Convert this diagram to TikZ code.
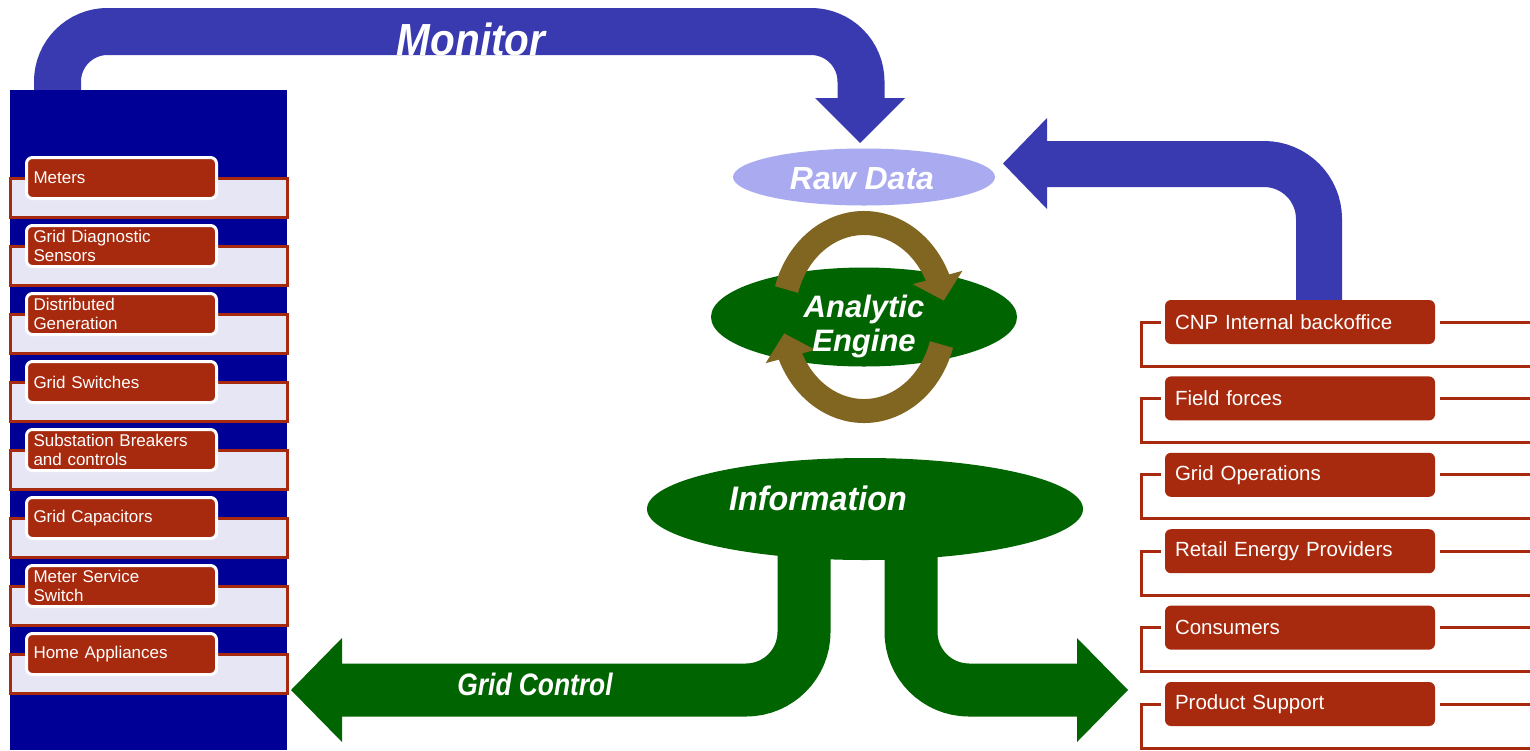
\documentclass[tikz,border=0pt]{standalone}
\usepackage{fontspec}
\setmainfont{Liberation Sans}
\newfontfamily\narrowfont[FakeStretch=0.85]{Liberation Sans}
\usetikzlibrary{arrows.meta,bending,shapes.geometric,calc}
\definecolor{mblue}{RGB}{58,58,176}
\definecolor{panelblue}{RGB}{0,0,150}
\definecolor{rawlav}{RGB}{170,170,240}
\definecolor{dgreen}{RGB}{0,100,0}
\definecolor{ringbrown}{RGB}{128,102,32}
\definecolor{itemred}{RGB}{168,42,14}
\definecolor{lavfill}{RGB}{230,230,245}
\tikzset{
  lavbox/.style={draw=itemred, fill=lavfill, line width=3pt, minimum width=277pt, minimum height=39pt, inner sep=0pt, outer sep=0pt},
  leftitem/.style={draw=white, fill=itemred, line width=3pt, rounded corners=6pt, minimum height=41pt, text width=176pt, inner xsep=7pt, inner ysep=0pt, outer sep=0pt, align=left, text=white, font=\fontsize{17}{19.5}\selectfont},
  rightitem/.style={fill=itemred, rounded corners=6pt, minimum height=44pt, text width=250pt, inner xsep=10pt, inner ysep=0pt, outer sep=0pt, align=left, text=white, font=\fontsize{20.5}{22}\selectfont},
  redline/.style={draw=itemred, line width=3pt},
  bigtext/.style={text=white, inner sep=0pt, font=\fontsize{32}{36}\selectfont\bfseries\itshape},
  narrowtext/.style={text=white, inner sep=0pt, font=\narrowfont\fontsize{31}{36}\selectfont\bfseries\itshape},
  bluearrow/.style={draw=mblue, line width=47pt},
  greenarrow/.style={draw=dgreen, line width=53pt, rounded corners=58pt},
  ringarrow/.style={draw=ringbrown, line width=24pt, -{Triangle[length=24pt,width=50pt]}},
}
\begin{document}
\begin{tikzpicture}[x=1pt,y=-1pt]
\useasboundingbox (0,0) rectangle (1530,750);
\fill[white] (0,0) rectangle (1530,750);

% Monitor arrow
\draw[bluearrow, rounded corners=50pt] (57.5,100) -- (57.5,31.5) -- (861,31.5) -- (861,100);
\fill[mblue] (815,98) -- (905,98) -- (860,143) -- cycle;
\node[bigtext, anchor=base, font=\fontsize{45}{48}\selectfont\bfseries\itshape] (monitor) at (471,55) {\scalebox{0.9}[1]{Monitor}};

% left panel
\fill[panelblue] (10,90) rectangle (287,750);
\foreach \i/\txt in {0/Meters, 1/{Grid Diagnostic\\Sensors}, 2/{Distributed\\Generation}, 3/Grid Switches, 4/{Substation Breakers\\and controls}, 5/Grid Capacitors, 6/{Meter Service\\Switch}, 7/Home Appliances}{
  \pgfmathsetmacro\yy{156+68*\i}
  \node[lavbox, anchor=north west] (lb\i) at (10,\yy+22) {};
  \node[leftitem, anchor=north west] (li\i) at (26.5,\yy+1.5) {\txt};
}

% Raw data
\node[ellipse, fill=rawlav, minimum width=262pt, minimum height=57pt, inner sep=0pt] (raw) at (864,177) {};
\node[bigtext, anchor=base] (rawtxt) at (862,189) {Raw Data};

% arrow from CNP to raw data
\draw[bluearrow, line width=46pt, rounded corners=55pt] (1319,305) -- (1319,164) -- (1045,164);
\fill[mblue] (1047,118) -- (1003,163.5) -- (1047,209) -- cycle;

% right items
\foreach \i/\txt in {0/CNP Internal backoffice, 1/Field forces, 2/Grid Operations, 3/Retail Energy Providers, 4/Consumers, 5/Product Support}{
  \pgfmathsetmacro\yy{300+76.4*\i}
  \node[rightitem, anchor=north west] (ri\i) at (1165,\yy) {\txt};
  \draw[redline] ([xshift=-4pt]ri\i.west) -- ++(-20,0) -- ++(0,44) -- ++(389,0);
  \draw[redline] ([xshift=5pt]ri\i.east) -- ++(95,0);
}

% Analytic engine
\node[ellipse, fill=dgreen, minimum width=306pt, minimum height=99pt, inner sep=0pt] (ae) at (864,317) {};
\draw[ringarrow] (864,317) ++(-163:81 and 94) arc[start angle=-163, end angle=-10, x radius=81, y radius=94];
\draw[ringarrow] (864,317) ++(17:81 and 94) arc[start angle=17, end angle=170, x radius=81, y radius=94];
\node[bigtext, anchor=base, font=\fontsize{31}{34}\selectfont\bfseries\itshape] (ae1) at (864,317) {Analytic};
\node[bigtext, anchor=base, font=\fontsize{31}{34}\selectfont\bfseries\itshape] (ae2) at (864,351) {Engine};

% Information and grid control arrows
\draw[greenarrow] (804,530) -- (804,690) -- (340,690);
\fill[dgreen] (342,638) -- (291,690) -- (342,742) -- cycle;
\draw[greenarrow] (911,530) -- (911,690) -- (1079,690);
\fill[dgreen] (1077,638) -- (1128,690) -- (1077,742) -- cycle;
\node[ellipse, fill=dgreen, minimum width=436pt, minimum height=102pt, inner sep=0pt] (info) at (865,509) {};
\node[bigtext, anchor=base, font=\fontsize{34}{36}\selectfont\bfseries\itshape] (infotxt) at (818,510) {\scalebox{0.95}[1]{Information}};
\node[narrowtext, anchor=base] (gridtxt) at (535,695) {Grid Control};
\end{tikzpicture}
\end{document}
